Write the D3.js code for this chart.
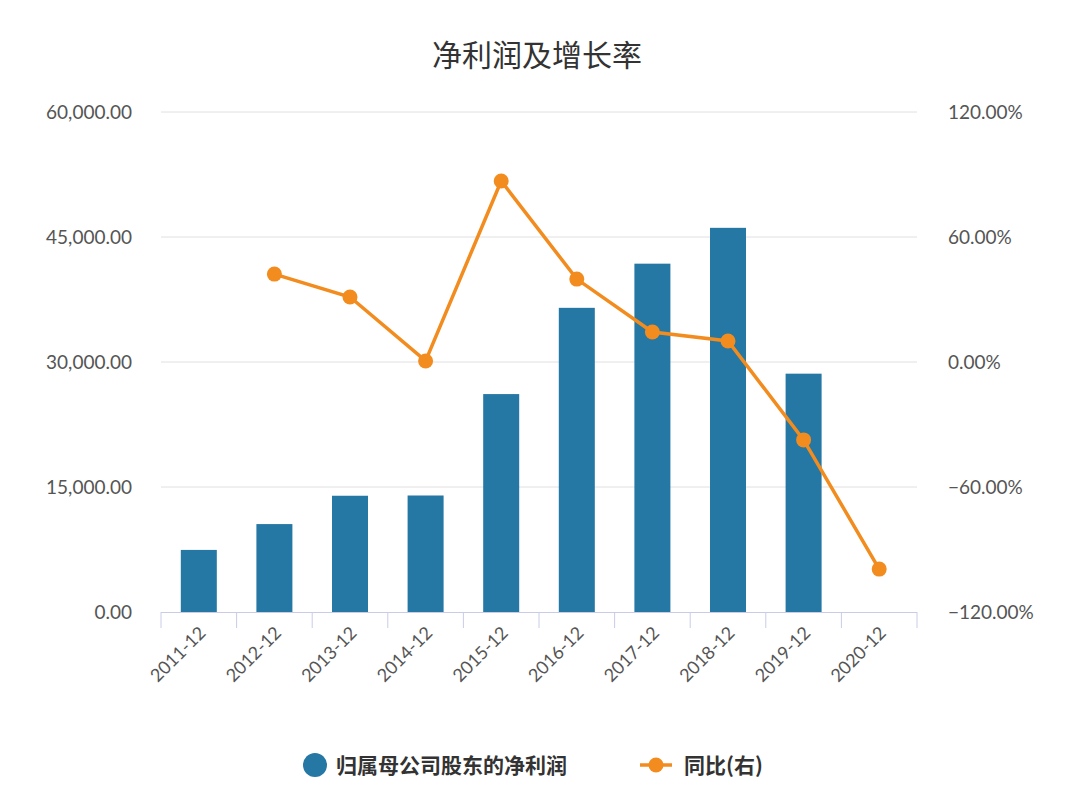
<!DOCTYPE html>
<html><head><meta charset="utf-8">
<script src="https://cdn.jsdelivr.net/npm/d3@7"></script>
<style>body{margin:0;background:#fff;font-family:"Noto Sans CJK SC","Noto Sans",sans-serif}</style>
</head><body><svg id="c" width="1074" height="796"></svg>
<script>
const categories=["2011-12","2012-12","2013-12","2014-12","2015-12","2016-12","2017-12","2018-12","2019-12","2020-12"];
const profit=[7450,10550,13950,13980,26150,36500,41800,46100,28600,null];
const growth=[null,42.2,31.2,0.5,86.9,39.8,14.4,10.1,-37.4,-99.4];
const leftTicks=[0,15000,30000,45000,60000];
const rightTicks=[-120,-60,0,60,120];
const svg=d3.select("#c");
const L=161,R=917,T=112,B=612;
const x=d3.scaleBand().domain(categories).range([L,R]);
const yL=d3.scaleLinear().domain([0,60000]).range([B,T]);
const yR=d3.scaleLinear().domain([-120,120]).range([B,T]);
const fmt=d3.format(",.2f");
svg.append("text").attr("x",537).attr("y",66).attr("text-anchor","middle").attr("font-size",30).attr("fill","#333").text("净利润及增长率");
leftTicks.forEach(t=>{
  if(t>0)svg.append("line").attr("x1",L).attr("x2",R).attr("y1",yL(t)).attr("y2",yL(t)).attr("stroke","#e0e0e0");
  svg.append("text").attr("x",132).attr("y",yL(t)+7).attr("text-anchor","end").attr("font-size",19).attr("fill","#555").attr("font-family","Lato, sans-serif").text(fmt(t));
});
rightTicks.forEach(t=>{
  svg.append("text").attr("x",948).attr("y",yR(t)+7).attr("font-size",19).attr("fill","#555").attr("font-family","Lato, sans-serif").text(fmt(t)+"%");
});
svg.append("line").attr("x1",L).attr("x2",R).attr("y1",B+0.5).attr("y2",B+0.5).attr("stroke","#c8cce8");
categories.concat([null]).forEach((c,i)=>{
  const xx=L+i*x.step();
  svg.append("line").attr("x1",xx).attr("x2",xx).attr("y1",B).attr("y2",B+16).attr("stroke","#c8cce8");
});
categories.forEach(c=>{
  const cx=x(c)+x.bandwidth()/2;
  svg.append("text").attr("transform",`translate(${cx+8},${B+22}) rotate(-45)`).attr("text-anchor","end").attr("font-size",18).attr("fill","#555").attr("font-family","Lato, sans-serif").text(c);
});
const bw=36;
svg.selectAll(".bar").data(categories.map((c,i)=>[c,profit[i]]).filter(d=>d[1]!=null)).enter().append("rect")
 .attr("x",d=>x(d[0])+x.bandwidth()/2-bw/2).attr("width",bw).attr("y",d=>yL(d[1])).attr("height",d=>B-yL(d[1])).attr("fill","#2577a4");
const pts=categories.map((c,i)=>[c,growth[i]]).filter(d=>d[1]!=null);
svg.append("path").attr("d",d3.line().x(d=>x(d[0])+x.bandwidth()/2).y(d=>yR(d[1]))(pts)).attr("fill","none").attr("stroke","#f28c1e").attr("stroke-width",3.5);
svg.selectAll(".pt").data(pts).enter().append("circle").attr("cx",d=>x(d[0])+x.bandwidth()/2).attr("cy",d=>yR(d[1])).attr("r",7.5).attr("fill","#f28c1e");
svg.append("circle").attr("cx",315).attr("cy",765).attr("r",12).attr("fill","#2577a4");
svg.append("text").attr("x",336).attr("y",773).attr("font-size",21).attr("font-weight","bold").attr("fill","#333").text("归属母公司股东的净利润");
svg.append("line").attr("x1",640).attr("x2",672).attr("y1",765).attr("y2",765).attr("stroke","#f28c1e").attr("stroke-width",3.5);
svg.append("circle").attr("cx",656).attr("cy",765).attr("r",7.5).attr("fill","#f28c1e");
svg.append("text").attr("x",684).attr("y",773).attr("font-size",21).attr("font-weight","bold").attr("fill","#333").text("同比(右)");
</script></body></html>
